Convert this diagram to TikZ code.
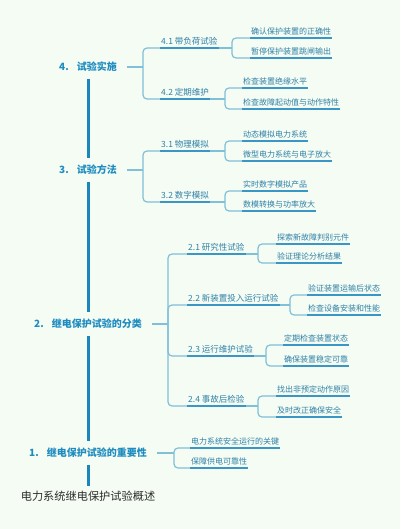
\documentclass[tikz,border=0pt]{standalone}
\usepackage{fontspec}
\newfontfamily\cjk{Noto Sans CJK SC}
\definecolor{bgc}{RGB}{245,252,243}
\definecolor{trunkc}{RGB}{28,134,186}
\definecolor{mainc}{RGB}{30,140,192}
\definecolor{subc}{RGB}{46,128,168}
\definecolor{ulc}{RGB}{58,150,196}
\definecolor{connc}{RGB}{128,192,216}
\definecolor{titlec}{RGB}{45,45,45}
\tikzset{
  lvlone/.style={text=mainc, font=\cjk\bfseries\fontsize{10}{10}\selectfont, inner xsep=10pt, inner ysep=6.5pt},
  titlebox/.style={text=titlec, font=\cjk\fontsize{11.2}{11.2}\selectfont, inner xsep=2pt, inner ysep=5pt},
  lvltwo/.style={anchor=south west, text=subc, font=\cjk\fontsize{8.5}{8.5}\selectfont, inner xsep=1pt, inner ysep=2.5pt},
  leaf/.style={anchor=south west, text=subc, font=\cjk\fontsize{8}{8}\selectfont, inner xsep=1pt, inner ysep=2.5pt},
  trunk/.style={draw=trunkc, line width=3pt},
  conn/.style={draw=connc, line width=1.2pt, rounded corners=4pt},
  ul/.style={draw=ulc, line width=1.8pt}
}
\begin{document}
\begin{tikzpicture}[x=1pt,y=-1pt]
\fill[bgc] (0,0) rectangle (400,529);
\useasboundingbox (0,0) rectangle (400,529);

% level one
\node[lvlone] (n4) at (88,67) {4.\hspace{8pt}试验实施};
\node[lvlone] (n3) at (88,170) {3.\hspace{8pt}试验方法};
\node[lvlone] (n2) at (88,324) {2.\hspace{8pt}继电保护试验的分类};
\node[lvlone] (n1) at (88,453) {1.\hspace{8pt}继电保护试验的重要性};
\node[titlebox] (t) at (88,496) {电力系统继电保护试验概述};

\draw[trunk] (n4.south) -- (n3.north);
\draw[trunk] (n3.south) -- (n2.north);
\draw[trunk] (n2.south) -- (n1.north);
\draw[trunk] (n1.south) -- (t.north);

% junctions level one
\coordinate (j4) at (143,67);
\coordinate (j3) at (143,170);
\coordinate (j2) at (168,324);
\coordinate (j1) at (174,453);

% level two
\node[lvltwo] (a41) at (160,48) {4.1 带负荷试验};
\node[lvltwo] (a42) at (160,99) {4.2 定期维护};
\node[lvltwo] (a31) at (160,151) {3.1 物理模拟};
\node[lvltwo] (a32) at (160,202) {3.2 数字模拟};
\node[lvltwo] (a21) at (187,254) {2.1 研究性试验};
\node[lvltwo] (a22) at (187,305) {2.2 新装置投入运行试验};
\node[lvltwo] (a23) at (187,356) {2.3 运行维护试验};
\node[lvltwo] (a24) at (187,406) {2.4 事故后检验};
\node[leaf] (b11) at (190,448) {电力系统安全运行的关键};
\node[leaf] (b12) at (190,468) {保障供电可靠性};

% junctions level two
\coordinate (k41) at (232,48);
\coordinate (k42) at (225,99);
\coordinate (k31) at (225,151);
\coordinate (k32) at (225,202);
\coordinate (k21) at (258,254);
\coordinate (k22) at (290,305);
\coordinate (k23) at (266,356);
\coordinate (k24) at (258,406);

% leaves
\node[leaf] (c411) at (250,38) {确认保护装置的正确性};
\node[leaf] (c412) at (250,58) {暂停保护装置跳闸输出};
\node[leaf] (c421) at (242,88) {检查装置绝缘水平};
\node[leaf] (c422) at (242,109) {检查故障起动值与动作特性};
\node[leaf] (c311) at (242,141) {动态模拟电力系统};
\node[leaf] (c312) at (242,161) {微型电力系统与电子放大};
\node[leaf] (c321) at (242,191) {实时数字模拟产品};
\node[leaf] (c322) at (242,211) {数模转换与功率放大};
\node[leaf] (c211) at (276,244) {探索新故障判别元件};
\node[leaf] (c212) at (276,263) {验证理论分析结果};
\node[leaf] (c221) at (307,295) {验证装置运输后状态};
\node[leaf] (c222) at (307,315) {检查设备安装和性能};
\node[leaf] (c231) at (283,345) {定期检查装置状态};
\node[leaf] (c232) at (283,366) {确保装置稳定可靠};
\node[leaf] (c241) at (276,396) {找出非预定动作原因};
\node[leaf] (c242) at (276,417) {及时改正确保安全};

% connectors level one -> level two
\draw[conn] (n4.east) -- (j4);
\draw[conn] (j4) |- (a41.south west);
\draw[conn] (j4) |- (a42.south west);
\draw[conn] (n3.east) -- (j3);
\draw[conn] (j3) |- (a31.south west);
\draw[conn] (j3) |- (a32.south west);
\draw[conn] (n2.east) -- (j2);
\draw[conn] (j2) |- (a21.south west);
\draw[conn] (j2) |- (a22.south west);
\draw[conn] (j2) |- (a23.south west);
\draw[conn] (j2) |- (a24.south west);
\draw[conn] (n1.east) -- (j1);
\draw[conn] (j1) |- (b11.south west);
\draw[conn] (j1) |- (b12.south west);

% connectors level two -> leaves
\foreach \p/\a/\b in {41/411/412, 42/421/422, 31/311/312, 32/321/322, 21/211/212, 22/221/222, 23/231/232, 24/241/242}{
  \draw[conn] (a\p.south east) -- (k\p);
  \draw[conn] (k\p) |- (c\a.south west);
  \draw[conn] (k\p) |- (c\b.south west);
}

% underlines
\foreach \n in {a41,a42,a31,a32,a21,a22,a23,a24,b11,b12,c411,c412,c421,c422,c311,c312,c321,c322,c211,c212,c221,c222,c231,c232,c241,c242}{
  \draw[ul] (\n.south west) -- (\n.south east);
}
\end{tikzpicture}
\end{document}
